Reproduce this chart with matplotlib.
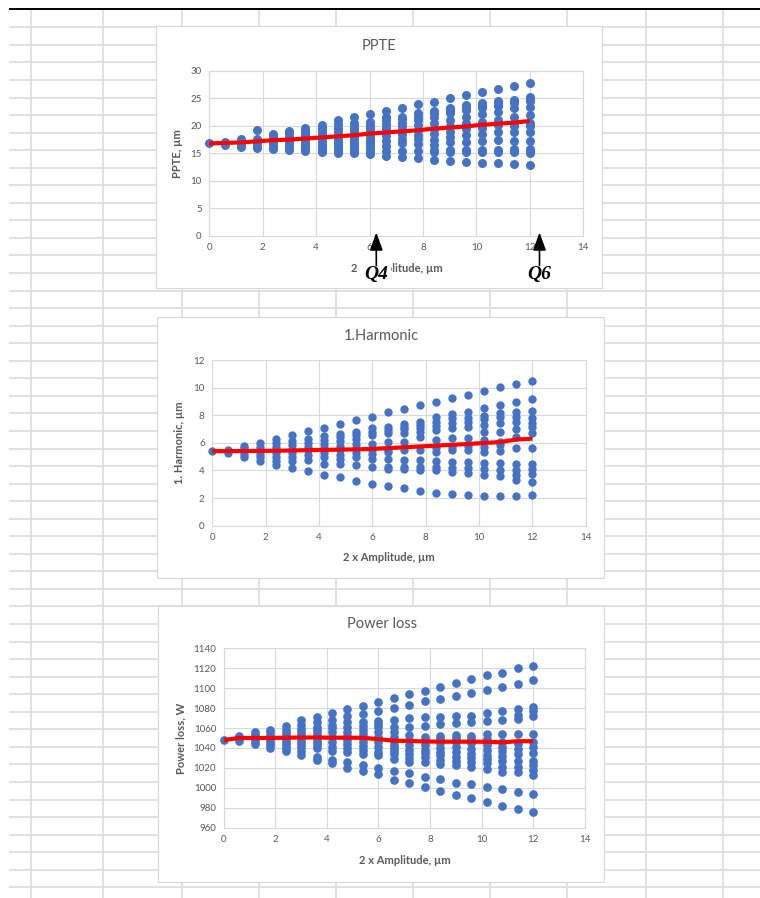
import matplotlib
matplotlib.use("Agg")
import matplotlib.pyplot as plt
from matplotlib.patches import Rectangle

plt.rcParams['font.family'] = ['Lato', 'DejaVu Sans']

# 2 x amplitude, um (one column of points per value)
x_amp = [0, 0.6, 1.2, 1.8, 2.4, 3.0, 3.6, 4.2, 4.8, 5.4, 6.0,
         6.6, 7.2, 7.8, 8.4, 9.0, 9.6, 10.2, 10.8, 11.4, 12.0]

# PPTE, um - all points per column, and the red mean line
ppte_cols = [
    [16.8],
    [16.5, 16.8, 17.0],
    [16.1, 16.5, 16.9, 17.2, 17.6],
    [15.9, 16.3, 16.7, 17.1, 17.6, 19.2],
    [15.8, 16.3, 16.8, 17.3, 17.8, 18.2, 18.6],
    [15.7, 16.2, 16.7, 17.2, 17.7, 18.2, 18.7, 19.1],
    [15.4, 15.9, 16.4, 16.9, 17.4, 17.9, 18.4, 18.9, 19.3, 19.7],
    [15.2, 15.7, 16.2, 16.7, 17.2, 17.7, 18.2, 18.7, 19.2, 19.7, 20.2],
    [15.1, 15.6, 16.1, 16.6, 17.1, 17.6, 18.1, 18.6, 19.1, 19.7, 20.3, 21.1],
    [15.0, 15.5, 16.0, 16.5, 17.0, 17.5, 18.0, 18.5, 19.0, 19.5, 20.0, 20.6, 21.6],
    [14.8, 15.3, 15.8, 16.3, 16.8, 17.3, 17.8, 18.3, 18.8, 19.3, 19.8, 20.3, 20.8, 22.2],
    [14.6, 15.5, 16.3, 17.3, 18.1, 19.0, 19.6, 20.4, 21.1, 21.7, 22.7],
    [14.4, 15.5, 16.9, 17.7, 18.5, 19.3, 19.9, 20.5, 21.2, 21.7, 23.3],
    [14.2, 15.5, 16.7, 17.7, 18.3, 19.3, 20.2, 21.1, 21.7, 22.3, 23.9],
    [13.7, 15.3, 15.6, 16.5, 17.4, 18.6, 19.4, 20.5, 21.7, 22.3, 22.8, 24.4],
    [13.6, 15.3, 15.6, 17.1, 18.0, 18.9, 19.9, 21.1, 22.3, 22.8, 23.2, 25.0],
    [13.4, 15.3, 15.6, 17.1, 18.3, 19.4, 20.0, 20.5, 21.7, 22.9, 23.4, 23.8, 25.6],
    [13.3, 15.3, 15.7, 17.3, 18.6, 19.7, 20.2, 20.8, 22.2, 23.2, 23.6, 24.1, 26.1],
    [13.2, 15.3, 15.7, 17.4, 18.9, 20.2, 20.5, 21.1, 22.6, 23.7, 24.1, 24.5, 26.7],
    [13.0, 15.2, 15.5, 15.8, 17.3, 18.8, 19.9, 20.2, 20.6, 21.7, 23.2, 24.1, 24.5, 24.8, 27.3],
    [12.9, 15.1, 15.4, 15.8, 17.3, 18.8, 19.9, 20.2, 20.6, 21.9, 23.5, 24.6, 24.9, 25.3, 27.9],
]
ppte_mean = [16.8, 16.9, 17.0, 17.2, 17.4, 17.5, 17.7, 17.9, 18.1, 18.3, 18.6,
             18.8, 19.0, 19.2, 19.5, 19.7, 19.9, 20.2, 20.4, 20.6, 20.9]

# 1. Harmonic, um
harm_cols = [
    [5.4],
    [5.25, 5.4, 5.5],
    [5.0, 5.2, 5.4, 5.6, 5.8],
    [4.7, 4.95, 5.2, 5.45, 5.7, 6.0],
    [4.4, 4.7, 4.95, 5.25, 5.5, 5.7, 6.0, 6.3],
    [4.15, 4.7, 4.95, 5.25, 5.5, 5.85, 6.15, 6.6],
    [3.95, 4.75, 5.1, 5.45, 5.7, 6.0, 6.3, 6.85],
    [3.7, 4.5, 4.95, 5.3, 5.6, 5.9, 6.2, 6.5, 7.1],
    [3.5, 4.45, 4.8, 5.1, 5.5, 5.75, 6.1, 6.45, 6.65, 7.35],
    [3.25, 4.4, 4.95, 5.3, 5.6, 5.9, 6.25, 6.55, 6.8, 7.65],
    [3.05, 4.25, 4.8, 5.2, 5.5, 5.95, 6.55, 6.8, 7.05, 7.9],
    [2.87, 4.08, 4.22, 4.8, 5.36, 5.48, 6.08, 6.73, 6.92, 7.12, 8.2],
    [2.7, 4.08, 4.27, 4.75, 5.48, 6.08, 6.68, 6.97, 7.17, 7.36, 8.45],
    [2.53, 4.03, 4.27, 4.75, 5.48, 6.44, 6.8, 7.05, 7.29, 7.53, 8.71],
    [2.39, 4.03, 4.27, 4.7, 5.36, 5.6, 6.2, 6.92, 7.21, 7.53, 7.84, 8.95],
    [2.29, 3.91, 4.15, 4.63, 5.48, 5.72, 6.32, 7.05, 7.41, 7.77, 8.08, 9.22],
    [2.22, 3.79, 4.15, 4.63, 5.48, 5.77, 6.32, 7.12, 7.53, 7.77, 8.2, 9.46],
    [2.15, 3.67, 4.08, 4.56, 5.36, 5.72, 6.2, 6.8, 7.29, 7.7, 7.94, 8.49, 9.75],
    [2.15, 3.6, 4.03, 4.51, 5.43, 5.84, 6.08, 6.8, 7.41, 7.84, 8.13, 8.74, 10.02],
    [2.15, 3.31, 3.67, 4.03, 4.44, 5.6, 6.44, 6.97, 7.53, 7.89, 8.25, 8.93, 10.26],
    [2.22, 3.18, 3.74, 4.08, 4.44, 5.6, 6.68, 7.12, 7.46, 7.77, 8.32, 9.17, 10.5],
]
harm_mean = [5.40, 5.40, 5.41, 5.42, 5.43, 5.45, 5.47, 5.49, 5.51, 5.53, 5.56,
             5.62, 5.68, 5.74, 5.80, 5.86, 5.92, 5.99, 6.06, 6.24, 6.30]

# Power loss, W
ploss_cols = [
    [1048],
    [1047, 1049.5, 1052],
    [1044, 1047, 1050, 1053, 1056],
    [1040, 1043, 1046, 1049, 1052, 1055, 1058],
    [1037, 1040, 1043, 1046, 1049, 1052, 1055, 1058, 1062],
    [1033, 1037, 1041, 1044, 1047, 1050, 1053, 1056, 1059, 1063, 1068],
    [1028, 1031, 1040, 1043, 1046, 1049, 1052, 1055, 1058, 1061, 1066, 1071],
    [1025, 1028, 1037, 1041, 1046, 1051, 1056, 1060, 1063, 1068, 1075],
    [1020, 1026, 1036, 1040, 1044, 1048, 1052, 1056, 1061, 1066, 1072, 1079],
    [1017, 1023, 1034, 1038, 1042, 1046, 1050, 1054, 1058, 1062, 1066, 1074, 1082],
    [1014, 1020, 1033, 1036, 1041, 1046, 1051, 1056, 1061, 1064, 1067, 1077, 1086],
    [1008, 1017, 1029, 1034, 1037, 1040, 1043, 1047, 1051, 1056, 1061, 1068, 1080, 1090],
    [1005, 1015, 1026, 1030, 1034, 1038, 1043, 1048, 1053, 1061, 1070, 1083, 1094],
    [1001, 1011, 1026, 1031, 1035, 1038, 1043, 1048, 1051, 1062, 1071, 1087, 1097],
    [997, 1009, 1024, 1028, 1033, 1036, 1040, 1045, 1049, 1052, 1064, 1071, 1089, 1101],
    [993, 1005, 1023, 1027, 1031, 1036, 1041, 1046, 1050, 1053, 1065, 1072, 1092, 1105],
    [990, 1004, 1021, 1026, 1030, 1034, 1039, 1045, 1049, 1052, 1066, 1072, 1095, 1109],
    [986, 1001, 1019, 1025, 1029, 1033, 1038, 1043, 1049, 1054, 1067, 1075, 1098, 1113],
    [982, 999, 1016, 1021, 1027, 1032, 1037, 1041, 1046, 1054, 1068, 1077, 1101, 1115],
    [979, 996, 1016, 1021, 1027, 1034, 1039, 1044, 1054, 1069, 1073, 1079, 1104, 1120],
    [976, 994, 1013, 1018, 1023, 1027, 1035, 1041, 1046, 1054, 1072, 1077, 1081, 1108, 1122],
]
ploss_mean = [1048, 1050, 1050, 1050, 1050.3, 1050.5, 1050.5, 1050.3, 1050.3, 1050.2, 1048.8,
              1047.3, 1047, 1046.5, 1046.3, 1046.3, 1046.3, 1046.2, 1045.6, 1046.8, 1046.8]

W, H = 760, 898
GRID = '#D9D9D9'
TXT = '#595959'
BLUE = '#4472C4'
LBL = 8

fig = plt.figure(figsize=(W / 100, H / 100), dpi=100)

# spreadsheet background
bg = fig.add_axes([0, 0, 1, 1], zorder=-1)
bg.set_xlim(0, W)
bg.set_ylim(H, 0)
bg.axis('off')
for k in range(50):
    y = 27.3 + 17.55 * k
    bg.plot([10, W], [y, y], color='#DEDEDE', lw=1.3)
for x in [30.7, 103.3, 181.7, 259, 336, 413, 490, 567.3, 645.7, 723.3]:
    bg.plot([x, x], [9, H], color='#DEDEDE', lw=1.3)
bg.plot([10, W], [8.5, 8.5], color='black', lw=1.4)

# chart boxes and titles
boxes = [(155.7, 26, 602.3, 288), (157, 316.5, 603.5, 577.5), (158, 606, 603.5, 882)]
titles = [('PPTE', 379, 45.7), ('1.Harmonic', 381, 335.7), ('Power loss', 381.7, 624)]
for (l, t, r, b), (txt, tx, ty) in zip(boxes, titles):
    bg.add_patch(Rectangle((l, t), r - l, b - t, fc='white', ec=GRID, lw=0.8, zorder=3))
    bg.text(tx, ty, txt, ha='center', va='center', fontsize=10.5, color=TXT, zorder=4)


def make_axes(left, top, right, bottom):
    ax = fig.add_axes([left / W, 1 - bottom / H, (right - left) / W, (bottom - top) / H], zorder=2)
    ax.set_axisbelow(True)
    ax.grid(True, color=GRID, lw=0.8)
    for s in ax.spines.values():
        s.set_color(GRID)
        s.set_linewidth(0.8)
    ax.tick_params(length=0, labelsize=7, labelcolor=TXT, pad=5.5)
    ax.set_xlim(0, 14)
    ax.set_xticks(range(0, 15, 2))
    return ax


def draw(ax, cols, mean, size):
    xs, ys = [], []
    for xv, col in zip(x_amp, cols):
        xs += [xv] * len(col)
        ys += col
    ax.scatter(xs, ys, s=size, color=BLUE, linewidths=0, zorder=3, clip_on=False)
    ax.plot(x_amp, mean, color='red', lw=3, zorder=4, solid_capstyle='butt')


ax1 = make_axes(209.3, 71, 583.3, 235.7)
draw(ax1, ppte_cols, ppte_mean, 42)
ax1.set_ylim(0, 30)
ax1.set_yticks(range(0, 31, 5))
ax1.set_ylabel('PPTE, µm', fontsize=LBL, fontweight='bold', color=TXT)
ax1.yaxis.set_label_coords(-0.070, 0.5)
ax1.set_xlabel('2 x Amplitude, µm', fontsize=LBL, fontweight='bold', color=TXT)
ax1.xaxis.set_label_coords(0.501, -0.166)

ax2 = make_axes(212.3, 360, 585.7, 525.7)
draw(ax2, harm_cols, harm_mean, 36)
ax2.set_ylim(0, 12)
ax2.set_yticks(range(0, 13, 2))
ax2.set_ylabel('1. Harmonic, µm', fontsize=LBL, fontweight='bold', color=TXT)
ax2.yaxis.set_label_coords(-0.073, 0.5)
ax2.set_xlabel('2 x Amplitude, µm', fontsize=LBL, fontweight='bold', color=TXT)
ax2.xaxis.set_label_coords(0.473, -0.160)

ax3 = make_axes(223.7, 648.3, 584.7, 827.7)
draw(ax3, ploss_cols, ploss_mean, 39)
ax3.set_ylim(960, 1140)
ax3.set_yticks(range(960, 1141, 20))
ax3.set_ylabel('Power loss, W', fontsize=LBL, fontweight='bold', color=TXT)
ax3.yaxis.set_label_coords(-0.104, 0.5)
ax3.set_xlabel('2 x Amplitude, µm', fontsize=LBL, fontweight='bold', color=TXT)
ax3.xaxis.set_label_coords(0.501, -0.153)

# Q4 / Q6 markers pasted over the first chart
ov = fig.add_axes([0, 0, 1, 1], zorder=10)
ov.set_xlim(0, W)
ov.set_ylim(H, 0)
ov.axis('off')
ov.add_patch(Rectangle((358.5, 257), 32.5, 29, fc='white', ec='none'))
for qx, q in [(376.3, 'Q4'), (539.5, 'Q6')]:
    ov.text(qx, 279.5, q, ha='center', va='baseline', fontsize=14, fontweight='bold',
            fontstyle='italic', family='Liberation Serif', color='black')
    ov.annotate('', xy=(qx, 232.5), xytext=(qx, 265.5),
                arrowprops=dict(arrowstyle='-|>,head_length=0.6,head_width=0.22',
                                mutation_scale=18, color='black', lw=1.2,
                                shrinkA=0, shrinkB=0))

fig.savefig('out.png', dpi=100, facecolor='white')
